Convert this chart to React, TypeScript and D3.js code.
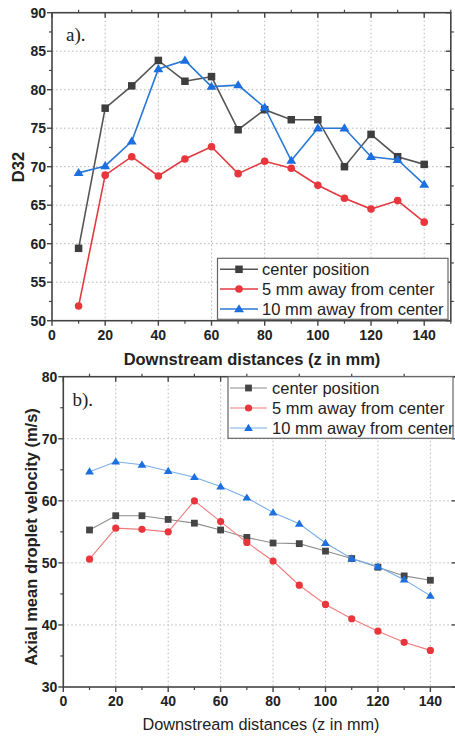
import React from "react";
import * as d3 from "d3";

// Downstream positions (mm)
const zPositions = [10, 20, 30, 40, 50, 60, 70, 80, 90, 100, 110, 120, 130, 140];

// Panel a) Sauter mean diameter D32
const d32Center = [59.4, 77.6, 80.5, 83.8, 81.1, 81.7, 74.8, 77.4, 76.1, 76.1, 70.0, 74.2, 71.3, 70.3];
const d32Five = [51.9, 68.9, 71.3, 68.8, 71.0, 72.6, 69.1, 70.7, 69.8, 67.6, 65.9, 64.5, 65.6, 62.8];
const d32Ten = [69.2, 70.1, 73.3, 82.7, 83.8, 80.4, 80.6, 77.7, 70.8, 75.0, 75.0, 71.3, 70.9, 67.7];

// Panel b) axial mean droplet velocity (m/s)
const velCenter = [55.3, 57.6, 57.6, 57.0, 56.4, 55.3, 54.1, 53.2, 53.1, 51.9, 50.7, 49.3, 47.9, 47.2];
const velFive = [50.6, 55.6, 55.4, 55.0, 60.0, 56.65, 53.3, 50.3, 46.4, 43.3, 41.0, 39.0, 37.2, 35.9];
const velTen = [64.7, 66.3, 65.8, 64.8, 63.8, 62.3, 60.5, 58.1, 56.3, 53.2, 50.7, 49.4, 47.3, 44.7];

const seriesNames = ["center position", "5 mm away from center", "10 mm away from center"];
const xTicks = [0, 20, 40, 60, 80, 100, 120, 140];
const xMinor = [10, 30, 50, 70, 90, 110, 130, 150];
const d32Ticks = [50, 55, 60, 65, 70, 75, 80, 85, 90];
const d32Minor = [52.5, 57.5, 62.5, 67.5, 72.5, 77.5, 82.5, 87.5];
const velTicks = [30, 40, 50, 60, 70, 80];
const velMinor = [35, 45, 55, 65, 75];

const SANS = "'Liberation Sans', Arial, sans-serif";
const SERIF = "'Liberation Serif', 'Times New Roman', serif";

type Shape = "square" | "circle" | "triangle";

function Marker({ shape, x, y, size, fill }: { shape: Shape; x: number; y: number; size: number; fill: string }) {
  if (shape === "square") {
    return <rect x={x - size / 2} y={y - size / 2} width={size} height={size} fill={fill} />;
  }
  if (shape === "circle") {
    return <circle cx={x} cy={y} r={size / 2} fill={fill} />;
  }
  const h = size * 0.9;
  const w = size * 1.1;
  return (
    <path
      d={`M${x},${y - h * 0.6} L${x + w / 2},${y + h * 0.4} L${x - w / 2},${y + h * 0.4} Z`}
      fill={fill}
    />
  );
}

interface SeriesStyle {
  values: number[];
  shape: Shape;
  line: string;
  marker: string;
  size: number;
}

interface PanelProps {
  x0: number;
  x1: number;
  y0: number;
  y1: number;
  yDomain: [number, number];
  yTicks: number[];
  yMinor: number[];
  yGrid: number[];
  series: SeriesStyle[];
  lineWidth: number;
  frameColor: string;
  tag: string;
  tagX: number;
  tagY: number;
  xTitle: string;
  xTitleBold: boolean;
  xTitleX: number;
  xTitleY: number;
  xTitleSize: number;
  yTitle: string;
  yTitleX: number;
  yTitleY: number;
  legend: { x: number; y: number; w: number; h: number; rows: number[]; lineX0: number; lineX1: number; textX: number };
}

function Panel(p: PanelProps) {
  const xs = d3.scaleLinear().domain([0, 150]).range([p.x0, p.x1]);
  const ys = d3.scaleLinear().domain(p.yDomain).range([p.y1, p.y0]);
  const lineGen = d3
    .line<number>()
    .x((_, i) => xs(zPositions[i]))
    .y((v) => ys(v));
  const gridColor = "#b8b8b8";
  return (
    <g>
      {/* grid */}
      {xTicks
        .filter((t) => t > 0)
        .map((t) => (
          <line
            key={"gx" + t}
            x1={xs(t)}
            x2={xs(t)}
            y1={p.y0}
            y2={p.y1}
            stroke={gridColor}
            strokeWidth={1}
            strokeDasharray="1.5,2.5"
          />
        ))}
      {p.yGrid.map((t) => (
        <line
          key={"gy" + t}
          x1={p.x0}
          x2={p.x1}
          y1={ys(t)}
          y2={ys(t)}
          stroke={gridColor}
          strokeWidth={1}
          strokeDasharray="1.5,2.5"
        />
      ))}

      {/* series */}
      {p.series.map((s, k) => (
        <g key={"s" + k}>
          <path d={lineGen(s.values) || ""} fill="none" stroke={s.line} strokeWidth={p.lineWidth} />
          {s.values.map((v, i) => (
            <Marker key={i} shape={s.shape} x={xs(zPositions[i])} y={ys(v)} size={s.size} fill={s.marker} />
          ))}
        </g>
      ))}

      {/* frame */}
      <rect
        x={p.x0}
        y={p.y0}
        width={p.x1 - p.x0}
        height={p.y1 - p.y0}
        fill="none"
        stroke={p.frameColor}
        strokeWidth={1.6}
      />

      {/* ticks: bottom & left outward, top & right majors inward, minors outward */}
      {xTicks.map((t) => (
        <g key={"tx" + t}>
          <line x1={xs(t)} x2={xs(t)} y1={p.y1} y2={p.y1 + 5} stroke={p.frameColor} strokeWidth={1.4} />
          <line x1={xs(t)} x2={xs(t)} y1={p.y0} y2={p.y0 + 5} stroke={p.frameColor} strokeWidth={1.4} />
          <text
            x={xs(t)}
            y={p.y1 + 19}
            textAnchor="middle"
            fontFamily={SANS}
            fontWeight="bold"
            fontSize={14}
            fill="#222"
          >
            {t}
          </text>
        </g>
      ))}
      {xMinor.map((t) => (
        <g key={"mx" + t}>
          <line x1={xs(t)} x2={xs(t)} y1={p.y1} y2={p.y1 + 3} stroke={p.frameColor} strokeWidth={1.2} />
          <line x1={xs(t)} x2={xs(t)} y1={p.y0} y2={p.y0 - 3} stroke={p.frameColor} strokeWidth={1.2} />
        </g>
      ))}
      {p.yTicks.map((t) => (
        <g key={"ty" + t}>
          <line x1={p.x0} x2={p.x0 - 5} y1={ys(t)} y2={ys(t)} stroke={p.frameColor} strokeWidth={1.4} />
          <line x1={p.x1} x2={p.x1 - 5} y1={ys(t)} y2={ys(t)} stroke={p.frameColor} strokeWidth={1.4} />
          <text
            x={p.x0 - 6}
            y={ys(t) + 5}
            textAnchor="end"
            fontFamily={SANS}
            fontWeight="bold"
            fontSize={14}
            fill="#222"
          >
            {t}
          </text>
        </g>
      ))}
      {p.yMinor.map((t) => (
        <g key={"my" + t}>
          <line x1={p.x0} x2={p.x0 - 3} y1={ys(t)} y2={ys(t)} stroke={p.frameColor} strokeWidth={1.2} />
          <line x1={p.x1} x2={p.x1 + 3} y1={ys(t)} y2={ys(t)} stroke={p.frameColor} strokeWidth={1.2} />
        </g>
      ))}

      {/* panel tag */}
      <text x={p.tagX} y={p.tagY} fontFamily={SERIF} fontSize={19} fill="#222">
        {p.tag}
      </text>

      {/* legend */}
      <rect
        x={p.legend.x}
        y={p.legend.y}
        width={p.legend.w}
        height={p.legend.h}
        fill="#fff"
        stroke="#666"
        strokeWidth={1.2}
      />
      {p.series.map((s, k) => {
        const ry = p.legend.rows[k];
        const mx = (p.legend.lineX0 + p.legend.lineX1) / 2;
        return (
          <g key={"lg" + k}>
            <line
              x1={p.legend.lineX0}
              x2={p.legend.lineX1}
              y1={ry}
              y2={ry}
              stroke={s.line}
              strokeWidth={p.lineWidth}
            />
            <Marker shape={s.shape} x={mx} y={ry} size={s.size} fill={s.marker} />
            <text x={p.legend.textX} y={ry + 6} fontFamily={SANS} fontSize={16.5} fill="#222">
              {seriesNames[k]}
            </text>
          </g>
        );
      })}

      {/* axis titles */}
      <text
        x={p.xTitleX}
        y={p.xTitleY}
        textAnchor="middle"
        fontFamily={SANS}
        fontWeight={p.xTitleBold ? "bold" : "normal"}
        fontSize={p.xTitleSize}
        fill="#222"
      >
        {p.xTitle}
      </text>
      <text
        transform={`translate(${p.yTitleX},${p.yTitleY}) rotate(-90)`}
        textAnchor="middle"
        fontFamily={SANS}
        fontWeight="bold"
        fontSize={16.5}
        fill="#222"
      >
        {p.yTitle}
      </text>
    </g>
  );
}

export default function App() {
  return (
    <svg
      width={455}
      height={736}
      style={{ position: "absolute", left: 0, top: 0, background: "#fff" }}
    >
      <rect x={0} y={0} width={455} height={736} fill="#fff" />
      <Panel
        x0={52}
        x1={450.8}
        y0={12.7}
        y1={320.7}
        yDomain={[50, 90]}
        yTicks={d32Ticks}
        yMinor={d32Minor}
        yGrid={[55, 60, 65, 70, 75, 80, 85]}
        lineWidth={1.6}
        frameColor="#444"
        series={[
          { values: d32Center, shape: "square", line: "#555", marker: "#3e3e3e", size: 7.5 },
          { values: d32Five, shape: "circle", line: "#e23a40", marker: "#e8363c", size: 7.6 },
          { values: d32Ten, shape: "triangle", line: "#2a78d6", marker: "#1c6fe0", size: 9 },
        ]}
        tag="a)."
        tagX={66}
        tagY={41}
        xTitle="Downstream distances (z in mm)"
        xTitleBold={true}
        xTitleX={252}
        xTitleY={365}
        xTitleSize={16.5}
        yTitle="D32"
        yTitleX={24}
        yTitleY={167}
        legend={{ x: 217.5, y: 258.3, w: 230.5, h: 61, rows: [269.3, 289, 309], lineX0: 220, lineX1: 258, textX: 262 }}
      />
      <Panel
        x0={63.3}
        x1={456.6}
        y0={376.7}
        y1={687}
        yDomain={[30, 80]}
        yTicks={velTicks}
        yMinor={velMinor}
        yGrid={[40, 50, 60, 70]}
        lineWidth={1.1}
        frameColor="#444"
        series={[
          { values: velCenter, shape: "square", line: "#8c8c8c", marker: "#454545", size: 6.8 },
          { values: velFive, shape: "circle", line: "#f07c7c", marker: "#e8363c", size: 7.2 },
          { values: velTen, shape: "triangle", line: "#78aee8", marker: "#1c6fe0", size: 8 },
        ]}
        tag="b)."
        tagX={72.5}
        tagY={406}
        xTitle="Downstream distances (z in mm)"
        xTitleBold={false}
        xTitleX={261}
        xTitleY={730}
        xTitleSize={16.3}
        yTitle="Axial mean droplet velocity (m/s)"
        yTitleX={37}
        yTitleY={537}
        legend={{ x: 228, y: 376.7, w: 225, h: 61.6, rows: [388, 408, 428], lineX0: 230, lineX1: 267, textX: 272 }}
      />
    </svg>
  );
}
